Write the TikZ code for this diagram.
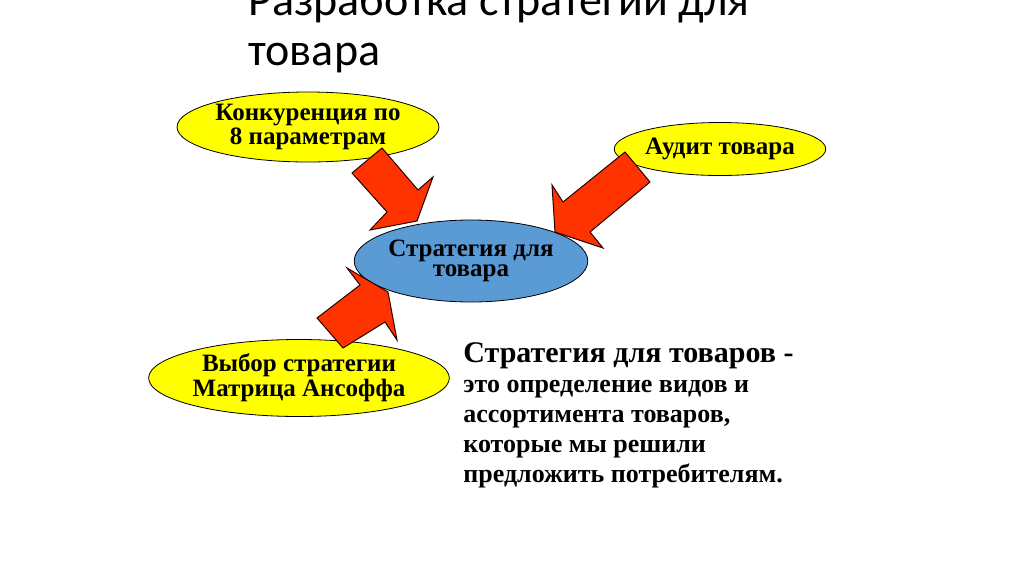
\documentclass[tikz,border=0pt]{standalone}
\usepackage{fontspec}
\setmainfont{Liberation Serif}
\newfontfamily\titlefont{Carlito}
\usetikzlibrary{shapes.geometric}
\definecolor{ovalyellow}{RGB}{255,255,0}
\definecolor{ovalblue}{RGB}{91,155,213}
\definecolor{arrowred}{RGB}{255,51,0}

\begin{document}
\begin{tikzpicture}[x=0.5pt, y=-0.5pt,
    oval/.style={draw=black, ellipse, inner sep=0pt, align=center, font=\bfseries\fontsize{12.5}{10}\selectfont},
    blockarrow/.style={draw=black!85!red, fill=arrowred, line width=0.5pt, line join=miter}]
    \useasboundingbox (0,0) rectangle (1024,574);
    \clip (0,0) rectangle (1024,574);

    % title
    \node [anchor=base west, align=left, inner sep=0pt, font=\titlefont\fontsize{23}{25}\selectfont] (title) at (248,65) {Разработка стратегии для\\товара};

    % ovals
    \node [oval, fill=ovalyellow, minimum width=103.5pt, minimum height=35pt] (konk) at (308,127) {Конкуренция по\\8 параметрам};
    \node [oval, fill=ovalyellow, minimum width=92pt, minimum height=26.5pt] (audit) at (720,149) {Аудит товара};
    \node [oval, fill=ovalyellow, minimum width=124pt, minimum height=38.5pt] (vybor) at (299,378) {Выбор стратегии\\Матрица Ансоффа};
    \node [oval, fill=ovalblue, minimum width=108.5pt, minimum height=41pt] (strat) at (471,261) {Стратегия для\\товара};

    % block arrows
    \draw [blockarrow] (352,173) -- (382,148) -- (418,190) -- (433,177) -- (417,221) -- (370,230) -- (387,212) -- cycle;
    \draw [blockarrow] (625,152) -- (650,182) -- (590,232) -- (603,248) -- (555,232) -- (552,185) -- (563,202) -- cycle;
    \draw [blockarrow] (317,318) -- (343,348) -- (385,322) -- (397,340) -- (388,292) -- (347,268) -- (360,285) -- cycle;

    % definition
    \node [anchor=base west, align=left, inner sep=0pt, font=\bfseries\fontsize{13}{15}\selectfont] (defn) at (463,482) {{\fontsize{15}{15}\selectfont Стратегия для товаров -}\\это определение видов и\\ассортимента товаров,\\которые мы решили\\предложить потребителям.};
\end{tikzpicture}
\end{document}
